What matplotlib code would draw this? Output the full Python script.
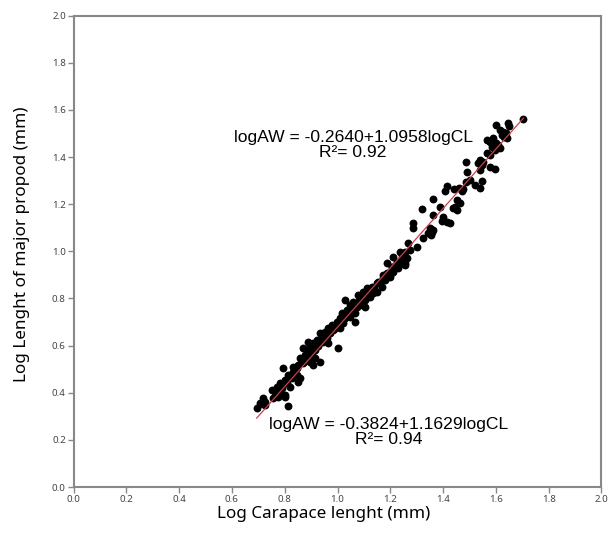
import matplotlib
matplotlib.use('Agg')
import matplotlib.pyplot as plt
import numpy as np

# log carapace length (x) vs log propod length (y)
log_cl = [
    1.704, 1.600, 1.647, 1.651, 1.616, 1.628, 1.638, 1.622, 1.632, 1.643,
    1.565, 1.578, 1.590, 1.600, 1.584, 1.609, 1.616, 1.597, 1.568, 1.578,
    1.540, 1.552, 1.533, 1.546, 1.578, 1.597, 1.540, 1.487, 1.492, 1.502,
    1.487, 1.546, 1.521, 1.540, 1.477, 1.414, 1.441, 1.407, 1.461, 1.470,
    1.363, 1.388, 1.319, 1.452, 1.464, 1.445, 1.454, 1.439, 1.363, 1.401,
    1.414, 1.426, 1.395, 1.287, 1.285, 1.350, 1.357, 1.363, 1.353, 1.344,
    1.268, 1.300, 1.325, 1.256, 1.275, 1.237, 1.243, 1.262, 1.211, 1.256,
    1.224, 1.205, 1.218, 1.186, 1.199, 1.173,
    1.186, 1.224, 1.249, 1.256, 1.205, 1.231, 1.212, 1.193, 1.174, 1.199,
    1.180, 1.161, 1.148, 1.167, 1.111, 1.098, 1.079, 1.117, 1.085, 1.104,
    1.123, 1.136, 1.148, 1.029, 1.060, 1.047, 1.073, 1.092, 1.035, 1.054,
    1.016, 1.041, 1.066, 1.104, 1.010, 1.029, 1.047, 0.997, 1.022, 1.066,
    0.978, 0.997, 0.965, 0.984, 1.010, 0.953, 0.934, 0.972, 0.940, 0.959,
    0.921, 0.946, 0.909, 0.927, 0.965, 1.003, 0.890, 0.896, 0.871, 0.890,
    0.915, 0.877, 0.902, 0.858, 0.883, 0.915, 0.934, 0.896, 0.871, 0.852,
    0.833, 0.909, 0.795, 0.833, 0.814, 0.845, 0.858, 0.826, 0.801, 0.852,
    0.782, 0.808, 0.770, 0.789, 0.820, 0.763, 0.782, 0.795, 0.801, 0.776,
    0.757, 0.719, 0.725, 0.706, 0.694, 0.814, 0.719, 0.751, 0.782, 0.801,
    0.725, 1.110, 1.130, 1.090, 1.070, 1.050, 1.020, 1.000, 0.985, 0.960,
    0.945, 0.925, 0.905, 0.885, 0.865, 0.845, 1.155, 1.140, 1.120, 1.080,
]
log_pl = [
    1.562, 1.536, 1.544, 1.532, 1.515, 1.508, 1.501, 1.494, 1.487, 1.480,
    1.473, 1.466, 1.480, 1.459, 1.444, 1.452, 1.438, 1.430, 1.416, 1.409,
    1.388, 1.381, 1.374, 1.367, 1.360, 1.350, 1.346, 1.381, 1.338, 1.303,
    1.296, 1.299, 1.282, 1.268, 1.264, 1.278, 1.264, 1.258, 1.268, 1.258,
    1.221, 1.190, 1.179, 1.218, 1.204, 1.190, 1.176, 1.183, 1.155, 1.147,
    1.126, 1.119, 1.130, 1.119, 1.098, 1.098, 1.084, 1.091, 1.070, 1.077,
    1.034, 1.020, 1.056, 0.999, 1.006, 0.999, 0.978, 0.971, 0.978, 0.950,
    0.950, 0.935, 0.928, 0.907, 0.900, 0.886,
    0.949, 0.956, 0.949, 0.942, 0.935, 0.928, 0.914, 0.907, 0.900, 0.893,
    0.879, 0.872, 0.864, 0.850, 0.843, 0.829, 0.815, 0.815, 0.801, 0.794,
    0.808, 0.822, 0.829, 0.794, 0.787, 0.772, 0.765, 0.772, 0.751, 0.751,
    0.737, 0.737, 0.737, 0.765, 0.716, 0.716, 0.723, 0.702, 0.695, 0.702,
    0.688, 0.681, 0.673, 0.666, 0.673, 0.659, 0.652, 0.652, 0.638, 0.631,
    0.624, 0.617, 0.610, 0.603, 0.610, 0.589, 0.617, 0.596, 0.589, 0.574,
    0.581, 0.560, 0.560, 0.546, 0.546, 0.546, 0.532, 0.532, 0.525, 0.518,
    0.511, 0.518, 0.504, 0.490, 0.475, 0.475, 0.461, 0.461, 0.454, 0.447,
    0.440, 0.440, 0.426, 0.419, 0.426, 0.405, 0.398, 0.391, 0.383, 0.383,
    0.376, 0.376, 0.362, 0.355, 0.334, 0.345, 0.352, 0.412, 0.426, 0.390,
    0.348, 0.820, 0.850, 0.800, 0.775, 0.750, 0.710, 0.690, 0.670, 0.645,
    0.625, 0.600, 0.575, 0.555, 0.530, 0.505, 0.870, 0.845, 0.830, 0.790,
]

# drawn regression line
fit_intercept = -0.582
fit_slope = 1.26

eq_top = 'logAW = -0.2640+1.0958logCL\nR²= 0.92'
eq_bottom = 'logAW = -0.3824+1.1629logCL\nR²= 0.94'

ticks = [0.0, 0.2, 0.4, 0.6, 0.8, 1.0, 1.2, 1.4, 1.6, 1.8, 2.0]

fig = plt.figure(figsize=(6.08, 5.37), dpi=100)
ax = fig.add_axes([0.1209, 0.0931, 0.8684, 0.8777])

ax.scatter(log_cl, log_pl, s=32, color='black', linewidths=0, zorder=2)

xs = np.array([min(log_cl), max(log_cl)])
ax.plot(xs, fit_intercept + fit_slope * xs, color='#c8404f', lw=0.9, zorder=3)

ax.text(1.059, 1.45, eq_top, ha='center', va='center', fontsize=12.6,
        family='Liberation Sans', linespacing=1.0)
ax.text(1.193, 0.232, eq_bottom, ha='center', va='center', fontsize=12.6,
        family='Liberation Sans', linespacing=1.0)

ax.set_xlim(0, 2)
ax.set_ylim(0, 2)
ax.set_xticks(ticks)
ax.set_yticks(ticks)
ax.set_xticklabels(['%.1f' % t for t in ticks])
ax.set_yticklabels(['%.1f' % t for t in ticks])
ax.tick_params(direction='out', length=4, width=1, color='#888888',
               labelsize=7, labelcolor='#444444', pad=1.5)
for lbl in ax.get_xticklabels() + ax.get_yticklabels():
    lbl.set_family('Noto Sans')
for sp in ax.spines.values():
    sp.set_color('#888888')
    sp.set_linewidth(1.5)

ax.set_xlabel('Log Carapace lenght (mm)', fontsize=12.3, family='Noto Sans')
ax.set_ylabel('Log Lenght of major propod (mm)', fontsize=12.3, family='Noto Sans')
ax.xaxis.set_label_coords(0.473, -0.04)
ax.yaxis.set_label_coords(-0.082, 0.515)

fig.savefig('out.png', dpi=100)
